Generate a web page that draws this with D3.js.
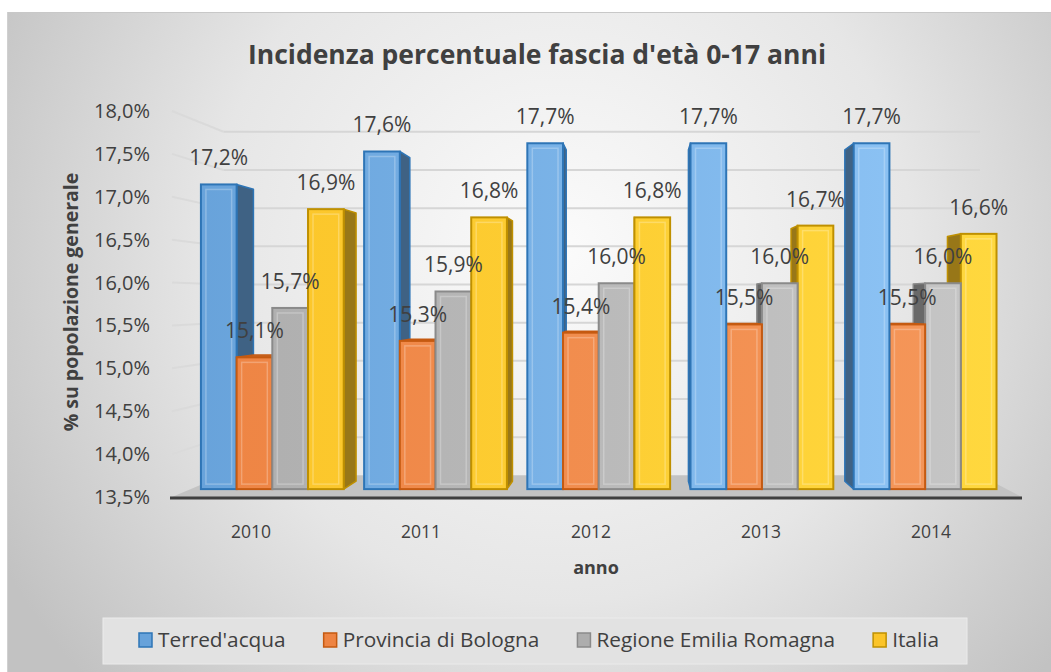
<!DOCTYPE html>
<html>
<head>
<meta charset="utf-8">
<script src="https://cdn.jsdelivr.net/npm/d3@7"></script>
<style>
  body { margin: 0; background: #ffffff; }
  text { font-family: "Open Sans", "DejaVu Sans", sans-serif; fill: #404040; }
</style>
</head>
<body>
<div id="viz"></div>
<script>
// chart data
var years = ["2010", "2011", "2012", "2013", "2014"];
var seriesNames = ["Terred'acqua", "Provincia di Bologna", "Regione Emilia Romagna", "Italia"];
var terredacqua = [17.2, 17.6, 17.7, 17.7, 17.7];
var provinciaBologna = [15.1, 15.3, 15.4, 15.5, 15.5];
var regioneER = [15.7, 15.9, 16.0, 16.0, 16.0];
var italia = [16.9, 16.8, 16.8, 16.7, 16.6];
var yTicks = [13.5, 14.0, 14.5, 15.0, 15.5, 16.0, 16.5, 17.0, 17.5, 18.0];

var seriesValues = [terredacqua, provinciaBologna, regioneER, italia];

// colours for each series: face (left -> right), outline
var faceLeft  = ["#67a2da", "#ee8443", "#adadad", "#fbc428"];
var faceRight = ["#90c6f7", "#f5975a", "#c6c6c6", "#ffd83e"];
var strokes   = ["#2e75b6", "#c55a11", "#8a8a8a", "#bf9000"];

var width = 1051, height = 672;

// perspective: vanishing point and depths (0 = front plane)
var VX = 640, VY = 300;
var barFront = 0.04, barBack = 0.08, wallDepth = 0.11;

function proj(x, y, f) {
  return [x + f * (VX - x), y + f * (VY - y)];
}

var fmt = function(v) { return d3.format(".1f")(v).replace(".", ",") + "%"; };

const svg = d3.select("#viz")
  .append("svg")
  .attr("width", width)
  .attr("height", height);

var defs = svg.append("defs");

var bg = defs.append("radialGradient")
  .attr("id", "bgGrad")
  .attr("gradientUnits", "userSpaceOnUse")
  .attr("cx", 560).attr("cy", 250).attr("r", 640);
bg.append("stop").attr("offset", "0%").attr("stop-color", "#fbfbfb");
bg.append("stop").attr("offset", "55%").attr("stop-color", "#e6e6e6");
bg.append("stop").attr("offset", "100%").attr("stop-color", "#c2c2c2");

seriesNames.forEach(function(s, i) {
  var g = defs.append("linearGradient")
    .attr("id", "face" + i)
    .attr("gradientUnits", "userSpaceOnUse")
    .attr("x1", 180).attr("x2", 1000).attr("y1", 0).attr("y2", 0);
  g.append("stop").attr("offset", "0%").attr("stop-color", faceLeft[i]);
  g.append("stop").attr("offset", "100%").attr("stop-color", faceRight[i]);
});

// chart area background
svg.append("rect")
  .attr("x", 7).attr("y", 12)
  .attr("width", width - 7).attr("height", height - 12)
  .attr("fill", "url(#bgGrad)");
svg.append("line")
  .attr("x1", 7).attr("x2", width).attr("y1", 12.5).attr("y2", 12.5)
  .attr("stroke", "#c8c8c8");
svg.append("line")
  .attr("x1", 7.5).attr("x2", 7.5).attr("y1", 12).attr("y2", height)
  .attr("stroke", "#d0d0d0");

// scales (front plane)
var y = d3.scaleLinear().domain([13.5, 18]).range([497, 111]);
var x0 = d3.scaleBand().domain(years).range([172, 1022])
  .paddingInner(0.125).paddingOuter(0.0625);
var x1 = d3.scaleBand().domain(seriesNames).range([0, x0.bandwidth()]);

// floor
var floorPts = [proj(172, y(13.5), 0), proj(1022, y(13.5), 0),
                proj(1022, y(13.5), wallDepth), proj(172, y(13.5), wallDepth)];
svg.append("polygon")
  .attr("points", floorPts.map(function(p) { return p.join(","); }).join(" "))
  .attr("fill", "#c3c3c3");

// gridlines: left wall + back wall
var grid = svg.append("g").attr("class", "grid");
yTicks.forEach(function(t) {
  if (t === 13.5) return;
  var a = proj(172, y(t), 0), b = proj(172, y(t), wallDepth), c = proj(1022, y(t), wallDepth);
  grid.append("line")
    .attr("x1", a[0]).attr("y1", a[1]).attr("x2", b[0]).attr("y2", b[1])
    .attr("stroke", "#dadada").attr("stroke-width", 2);
  grid.append("line")
    .attr("x1", b[0]).attr("y1", b[1]).attr("x2", c[0]).attr("y2", c[1])
    .attr("stroke", "#d6d6d6").attr("stroke-width", 2);
});

// floor front edge
svg.append("line")
  .attr("x1", 170).attr("x2", 1022).attr("y1", y(13.5) + 1).attr("y2", y(13.5) + 1)
  .attr("stroke", "#3f3f3f").attr("stroke-width", 3);

// y axis labels
svg.append("g")
  .selectAll("text")
  .data(yTicks)
  .enter()
  .append("text")
  .attr("x", 150)
  .attr("y", function(d) { return y(d); })
  .attr("dy", "0.35em")
  .attr("text-anchor", "end")
  .style("font-size", "20px")
  .text(fmt);

// build bar list
var bars = [];
years.forEach(function(yr, j) {
  seriesNames.forEach(function(s, i) {
    var xa = x0(yr) + x1(s), xb = xa + x1.bandwidth();
    bars.push({year: yr, series: i, value: seriesValues[i][j], xa: xa, xb: xb,
               cx: (xa + xb) / 2});
  });
});

// farther from vanishing point first
var drawOrder = bars.slice().sort(function(a, b) {
  return Math.abs(b.cx - VX) - Math.abs(a.cx - VX);
});

function poly(pts) { return pts.map(function(p) { return p.join(","); }).join(" "); }

var barG = svg.append("g").attr("class", "bars");
drawOrder.forEach(function(d) {
  var g = barG.append("g");
  var yt = y(d.value), yb = y(13.5);
  var base = d3.color(faceLeft[d.series]);
  var sideCol = base.darker(1.4).formatHex();
  var topCol = base.darker(0.45).formatHex();

  // side face
  var sx = d.cx < VX ? d.xb : d.xa;
  g.append("polygon")
    .attr("points", poly([proj(sx, yt, barFront), proj(sx, yt, barBack),
                          proj(sx, yb, barBack), proj(sx, yb, barFront)]))
    .attr("fill", sideCol)
    .attr("stroke", strokes[d.series]).attr("stroke-width", 1.5)
    .attr("stroke-linejoin", "round");

  // top face when it is below eye level
  if (yt > VY) {
    g.append("polygon")
      .attr("points", poly([proj(d.xa, yt, barFront), proj(d.xb, yt, barFront),
                            proj(d.xb, yt, barBack), proj(d.xa, yt, barBack)]))
      .attr("fill", topCol)
      .attr("stroke", strokes[d.series]).attr("stroke-width", 1.5)
      .attr("stroke-linejoin", "round");
  }

  // front face
  var p0 = proj(d.xa, yt, barFront), p1 = proj(d.xb, yb, barFront);
  g.append("rect")
    .attr("x", p0[0]).attr("y", p0[1])
    .attr("width", p1[0] - p0[0]).attr("height", p1[1] - p0[1])
    .attr("fill", "url(#face" + d.series + ")")
    .attr("stroke", strokes[d.series]).attr("stroke-width", 2);
  // soft bevel
  g.append("rect")
    .attr("x", p0[0] + 5).attr("y", p0[1] + 5)
    .attr("width", Math.max(0, p1[0] - p0[0] - 10)).attr("height", Math.max(0, p1[1] - p0[1] - 10))
    .attr("fill", "none")
    .attr("stroke", "#ffffff").attr("stroke-opacity", 0.25).attr("stroke-width", 1.5);
});

// data labels
svg.append("g")
  .selectAll("text")
  .data(bars)
  .enter()
  .append("text")
  .attr("x", function(d) { return proj(d.cx, y(d.value), barFront)[0]; })
  .attr("y", function(d) { return proj(d.cx, y(d.value), barFront)[1] - 19; })
  .attr("text-anchor", "middle")
  .style("font-size", "21px")
  .text(function(d) { return fmt(d.value); });

// x axis labels
svg.append("g")
  .selectAll("text")
  .data(years)
  .enter()
  .append("text")
  .attr("x", function(d) { return x0(d) + x0.bandwidth() / 2 - 6; })
  .attr("y", 538)
  .attr("text-anchor", "middle")
  .style("font-size", "17.5px")
  .text(function(d) { return d; });

// titles
svg.append("text")
  .attr("x", 537).attr("y", 64)
  .attr("text-anchor", "middle")
  .style("font-size", "26.5px").style("font-weight", "bold")
  .text("Incidenza percentuale fascia d'età 0-17 anni");

svg.append("text")
  .attr("x", 596).attr("y", 574)
  .attr("text-anchor", "middle")
  .style("font-size", "18px").style("font-weight", "bold")
  .text("anno");

svg.append("text")
  .attr("transform", "translate(78,302) rotate(-90)")
  .attr("text-anchor", "middle")
  .style("font-size", "19.5px").style("font-weight", "bold")
  .text("% su popolazione generale");

// legend
svg.append("rect")
  .attr("x", 103).attr("y", 618).attr("width", 864).attr("height", 46)
  .attr("fill", "#e2e2e2").attr("stroke", "#ebebeb");

var legend = svg.append("g");
var lx = 139;
seriesNames.forEach(function(s, i) {
  legend.append("rect")
    .attr("x", lx).attr("y", 633).attr("width", 13).attr("height", 14)
    .attr("fill", faceLeft[i]).attr("stroke", strokes[i]).attr("stroke-width", 1.5);
  var t = legend.append("text")
    .attr("x", lx + 19).attr("y", 647)
    .style("font-size", "20.8px")
    .text(s);
  lx = lx + 19 + t.node().getComputedTextLength() + 38;
});
</script>
</body>
</html>
